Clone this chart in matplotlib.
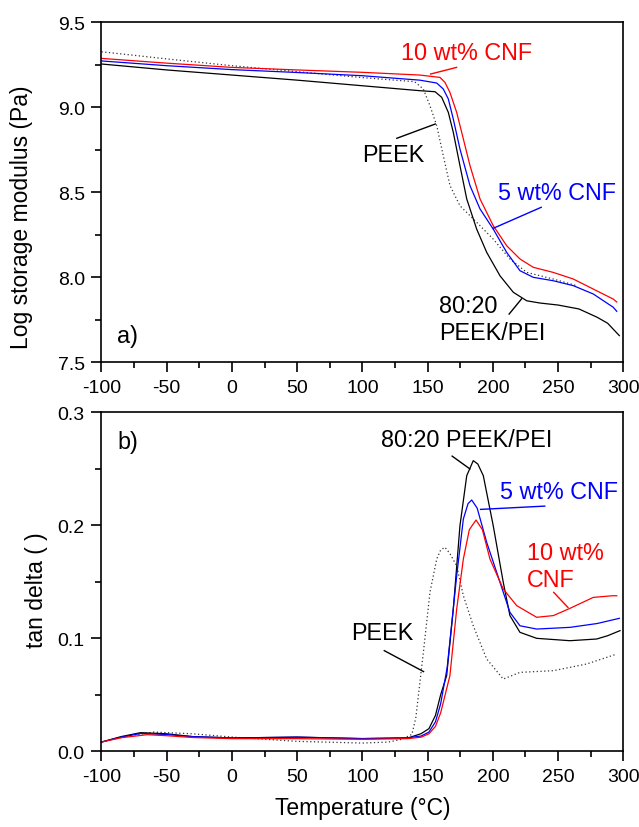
import matplotlib
matplotlib.use("Agg")
import matplotlib.pyplot as plt
from matplotlib.ticker import MultipleLocator, FormatStrFormatter

plt.rcParams["font.family"] = ["Liberation Sans", "DejaVu Sans"]
plt.rcParams["axes.unicode_minus"] = False

# --- (a) log storage modulus --------------------------------------------------
t_red_a = [-100, -50, 0, 50, 100, 144, 159.5, 163.3, 167.1, 172.3, 177.4, 182.5,
           190.2, 200.3, 210.6, 220.8, 231, 246.3, 261.7, 277, 292.3, 295]
g_red_a = [9.288, 9.26, 9.235, 9.22, 9.206, 9.19, 9.176, 9.147, 9.088, 8.97,
           8.814, 8.657, 8.461, 8.304, 8.186, 8.108, 8.059, 8.029, 7.99, 7.931,
           7.872, 7.855]

t_blue_a = [-100, -50, 0, 50, 100, 144, 157, 162, 165.9, 169.7, 174.8, 182.5,
            190.2, 200.3, 210.6, 220.8, 231, 246.3, 261.7, 277, 292.3, 295]
g_blue_a = [9.273, 9.245, 9.222, 9.205, 9.186, 9.16, 9.143, 9.108, 9.049, 8.931,
            8.755, 8.539, 8.402, 8.284, 8.147, 8.039, 8.0, 7.98, 7.951, 7.902,
            7.824, 7.80]

t_blk_a = [-100, -50, 0, 50, 100, 144, 155.7, 160.8, 165.9, 169.7, 174.8, 180,
           187.6, 195.3, 205.5, 215.7, 226, 236, 250, 266, 280, 288, 297]
g_blk_a = [9.255, 9.22, 9.19, 9.16, 9.127, 9.098, 9.092, 9.059, 8.97, 8.853,
           8.657, 8.461, 8.284, 8.147, 8.009, 7.912, 7.862, 7.849, 7.837, 7.814,
           7.765, 7.73, 7.657]

t_peek_a = [-100, -50, 0, 50, 100, 140, 146.7, 151.8, 157, 162, 167.2, 174.8,
            187.6, 200.3, 213.1, 226, 246.3, 264.3]
g_peek_a = [9.327, 9.285, 9.245, 9.21, 9.175, 9.151, 9.108, 9.01, 8.892, 8.716,
            8.539, 8.421, 8.324, 8.225, 8.108, 8.029, 7.99, 7.951]

# --- (b) tan delta -------------------------------------------------------------
t_red_b = [-100, -85, -65, -50, -30, 0, 50, 100, 135, 145, 151, 156, 160, 167.1,
           172.3, 177.4, 182, 187.1, 192, 197.8, 208, 218.3, 233.6, 246.4, 259.1,
           277, 292.3, 295]
d_red_b = [0.0082, 0.012, 0.0147, 0.0138, 0.0122, 0.0112, 0.0112, 0.0106,
           0.0112, 0.0125, 0.0155, 0.022, 0.034, 0.0669, 0.1258, 0.17, 0.196,
           0.2045, 0.196, 0.17, 0.1435, 0.1288, 0.1185, 0.12, 0.1264, 0.1361,
           0.1376, 0.1375]

t_blue_b = [-100, -85, -70, -50, -30, 0, 50, 100, 135, 145, 151, 156, 160, 165,
            172.3, 177.4, 181, 183.8, 188, 195.3, 205.5, 213.1, 220.8, 233.6,
            259.1, 280, 297]
d_blue_b = [0.0082, 0.0125, 0.0158, 0.0148, 0.013, 0.0118, 0.0125, 0.0113,
            0.012, 0.0135, 0.017, 0.026, 0.042, 0.074, 0.1553, 0.2054, 0.219,
            0.2222, 0.215, 0.1848, 0.1494, 0.1229, 0.111, 0.1081, 0.1096, 0.113,
            0.1176]

t_blk_b = [-100, -85, -70, -50, -30, 0, 50, 100, 135, 145, 151, 156, 160, 164.6,
           169.7, 174.8, 180, 185, 188.5, 192.7, 200.3, 208, 213.1, 220.8, 233.6,
           259.1, 279.6, 288, 297.5]
d_blk_b = [0.0082, 0.013, 0.0165, 0.0155, 0.013, 0.0118, 0.0126, 0.0112,
           0.0118, 0.0156, 0.02, 0.0317, 0.05, 0.0669, 0.1258, 0.1995, 0.2437,
           0.257, 0.254, 0.2437, 0.1995, 0.1494, 0.12, 0.1052, 0.0999, 0.0978,
           0.0993, 0.1022, 0.1067]

t_peek_b = [-100, -80, -60, -30, 0, 50, 100, 120, 130, 138, 141, 144, 147,
            151.8, 157, 160, 163.3, 167, 172.3, 177.4, 185, 195.3, 208, 220.8,
            246.4, 271.9, 295]
d_peek_b = [0.0082, 0.0135, 0.017, 0.0155, 0.0126, 0.0088, 0.0073, 0.0082,
            0.0106, 0.015, 0.03, 0.06, 0.09, 0.1406, 0.17, 0.178, 0.1804, 0.175,
            0.164, 0.1376, 0.111, 0.0816, 0.0639, 0.0698, 0.0713, 0.0772, 0.086]

RED, BLUE, BLK = "#ff0000", "#0000ff", "#000000"
LW = 0.9
TXT = 16.8


def style(a):
    for s in a.spines.values():
        s.set_linewidth(1.2)
    a.xaxis.set_major_locator(MultipleLocator(50))
    a.xaxis.set_minor_locator(MultipleLocator(25))
    a.tick_params(which="both", direction="out", top=False, right=False,
                  width=1.2, labelsize=14, pad=5)
    a.tick_params(which="major", length=7)
    a.tick_params(which="minor", length=4)
    a.set_xlim(-100, 300)


fig = plt.figure(figsize=(6.39, 8.28), dpi=100)
ax1 = fig.add_axes([0.1588, 0.5612, 0.8166, 0.4106])
ax2 = fig.add_axes([0.1588, 0.0914, 0.8166, 0.4098])

# --- top panel ---
a = ax1
a.plot(t_peek_a, g_peek_a, color="#333333", lw=LW, ls=(0, (1, 2)))
a.plot(t_blk_a, g_blk_a, color=BLK, lw=LW)
a.plot(t_blue_a, g_blue_a, color=BLUE, lw=LW)
a.plot(t_red_a, g_red_a, color=RED, lw=LW)
style(a)
a.set_ylim(7.5, 9.5)
a.yaxis.set_major_locator(MultipleLocator(0.5))
a.yaxis.set_minor_locator(MultipleLocator(0.25))
a.yaxis.set_major_formatter(FormatStrFormatter("%.1f"))
a.set_ylabel("Log storage modulus (Pa)", fontsize=16.5)
a.yaxis.set_label_coords(-0.131, 0.43)

a.text(180, 9.324, "10 wt% CNF", color=RED, fontsize=TXT, ha="center", va="center")
a.plot([152.3, 172.2], [9.196, 9.235], color=RED, lw=1.0)
a.text(124, 8.725, "PEEK", color=BLK, fontsize=TXT, ha="center", va="center")
a.plot([126.4, 155.9], [8.818, 8.902], color=BLK, lw=1.0)
a.text(249, 8.5, "5 wt% CNF", color=BLUE, fontsize=TXT, ha="center", va="center")
a.plot([200.2, 237.1], [8.288, 8.412], color=BLUE, lw=1.0)
a.text(159, 7.755, "80:20\nPEEK/PEI", color=BLK, fontsize=TXT, ha="left",
       va="center", linespacing=1.25)
a.plot([212.5, 222], [7.784, 7.873], color=BLK, lw=1.0)
a.text(-88, 7.657, "a)", fontsize=TXT, ha="left", va="center")

# --- bottom panel ---
a = ax2
a.plot(t_peek_b, d_peek_b, color="#333333", lw=LW, ls=(0, (1, 2)))
a.plot(t_blk_b, d_blk_b, color=BLK, lw=LW)
a.plot(t_blue_b, d_blue_b, color=BLUE, lw=LW)
a.plot(t_red_b, d_red_b, color=RED, lw=LW)
style(a)
a.set_ylim(0, 0.3)
a.yaxis.set_major_locator(MultipleLocator(0.1))
a.yaxis.set_minor_locator(MultipleLocator(0.05))
a.yaxis.set_major_formatter(FormatStrFormatter("%.1f"))
a.set_ylabel("tan delta ( )", fontsize=16.5)
a.yaxis.set_label_coords(-0.103, 0.478)
a.set_xlabel("Temperature (\u00b0C)", fontsize=16.5, labelpad=8)

a.text(-88, 0.274, "b)", fontsize=TXT, ha="left", va="center")
a.text(180, 0.2756, "80:20 PEEK/PEI", color=BLK, fontsize=TXT, ha="center", va="center")
a.plot([168.8, 182.4], [0.261, 0.2497], color=BLK, lw=1.0)
a.text(251, 0.23, "5 wt% CNF", color=BLUE, fontsize=TXT, ha="center", va="center")
a.plot([190.6, 239.8], [0.2139, 0.2168], color=BLUE, lw=1.0)
a.text(226, 0.164, "10 wt%\nCNF", color=RED, fontsize=TXT, ha="left",
       va="center", linespacing=1.25)
a.plot([246.7, 257.6], [0.1405, 0.1272], color=RED, lw=1.0)
a.text(115, 0.1052, "PEEK", color=BLK, fontsize=TXT, ha="center", va="center")
a.plot([116.8, 146.9], [0.089, 0.0705], color=BLK, lw=1.0)

fig.savefig("out.png", dpi=100)
